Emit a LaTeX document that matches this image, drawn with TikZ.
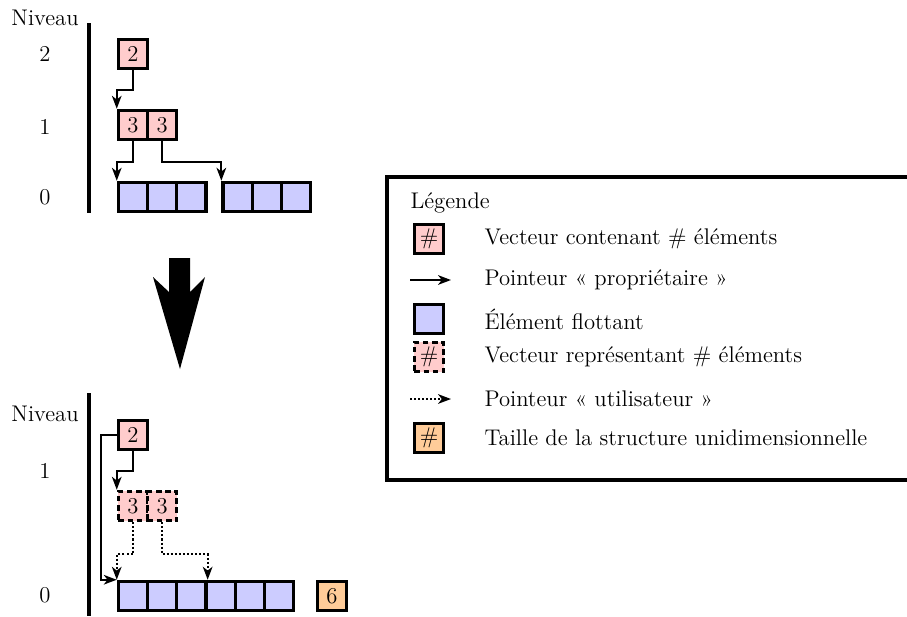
\documentclass[tikz,border=0pt]{standalone}
\usepackage{fontspec}
\usetikzlibrary{arrows.meta}
\begin{document}
\begin{tikzpicture}[x=0.543pt,y=-0.543pt,
 every node/.style={font=\fontsize{12.3}{14}\selectfont},
 box/.style={draw,line width=1.8pt,minimum size=15.86pt,inner sep=0pt},
 vec/.style={box,fill=red!20},
 vecd/.style={vec,dash pattern=on 3pt off 2pt},
 elt/.style={box,fill=blue!20},
 sz/.style={box,fill=orange!40},
 ptr/.style={line width=1.1pt,-{Stealth[length=7pt,width=5.2pt,inset=2pt]}},
 uptr/.style={ptr,dash pattern=on 1.1pt off 1.1pt},
 bar/.style={line width=2.2pt},
 lgt/.style={anchor=west}]
\useasboundingbox (0,0) rectangle (907,616);

% ---------- top diagram ----------
\node (tniv) at (45,18) {Niveau};
\node (tl2) at (45,54) {2};
\node (tl1) at (45,127) {1};
\node (tl0) at (45,197) {0};
\draw[bar] (89,23) -- (89,213);

\node[vec] (t2) at (133,54) {2};
\node[vec] (t3a) at (133,125) {3};
\node[vec] (t3b) at (162.2,125) {3};
\foreach \i/\x in {1/133,2/162.2,3/191.4}{\node[elt] (ta\i) at (\x,197) {};}
\foreach \i/\x in {1/237.6,2/266.8,3/296}{\node[elt] (tb\i) at (\x,197) {};}

\draw[ptr] (t2.south) -- ++(0,20) -| (t3a.north west);
\draw[ptr] (t3a.south) -- ++(0,21) -| (ta1.north west);
\draw[ptr] (t3b.south) -- ++(0,21) -| (tb1.north west);

% ---------- big arrow ----------
\fill (169,258) -- (190,258) -- (190,292) -- (205,277) -- (180,369) -- (153,277) -- (169,292) -- cycle;

% ---------- bottom diagram ----------
\node (bniv) at (45,414) {Niveau};
\node (bl1) at (45,471) {1};
\node (bl0) at (45,595) {0};
\draw[bar] (89,393) -- (89,616);

\node[vec] (b2) at (133,435) {2};
\node[vecd] (b3a) at (133,506) {3};
\node[vecd] (b3b) at (162.2,506) {3};
\foreach \i in {0,...,5}{\node[elt] (bc\i) at (133+29.2*\i,596) {};}
\node[sz] (b6) at (332,596) {6};

\draw[ptr] (b2.west) -- ++(-16,0) |- (bc0.north west);
\draw[ptr] (b2.south) -- ++(0,20) -| (b3a.north west);
\draw[uptr] (b3a.south) -- ++(0,32) -| (bc0.north west);
\draw[uptr] (b3b.south) -- ++(0,32) -| (bc2.north east);

% ---------- legend ----------
\draw[line width=2.2pt] (387,177) rectangle (912,480);
\node[lgt] (lgtitle) at (404,203) {Légende};
\node[vec] (li1) at (429,239) {\#};
\node[lgt] (lt1) at (478,239) {Vecteur contenant \# éléments};
\coordinate (la2s) at (410,280);
\coordinate (la2e) at (451,280);
\draw[ptr] (la2s) -- (la2e);
\node[lgt] (lt2) at (478,280) {Pointeur « propriétaire »};
\node[elt] (li3) at (429,319) {};
\node[lgt] (lt3) at (478,319) {Élément flottant};
\node[vecd] (li4) at (429,357) {\#};
\node[lgt] (lt4) at (478,357) {Vecteur représentant \# éléments};
\coordinate (la5s) at (410,399);
\coordinate (la5e) at (451,399);
\draw[uptr] (la5s) -- (la5e);
\node[lgt] (lt5) at (478,399) {Pointeur « utilisateur »};
\node[sz] (li6) at (429,438) {\#};
\node[lgt] (lt6) at (478,438) {Taille de la structure unidimensionnelle};
\end{tikzpicture}
\end{document}
